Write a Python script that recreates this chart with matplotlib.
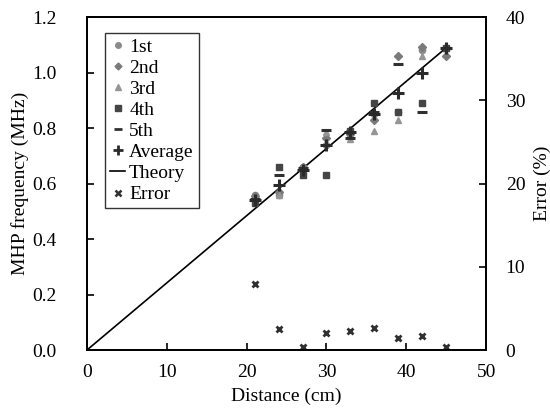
import matplotlib
matplotlib.use("Agg")
import matplotlib.pyplot as plt
from matplotlib.lines import Line2D

plt.rcParams['font.family'] = ['Liberation Serif', 'DejaVu Serif']

distance = [21, 24, 27, 30, 33, 36, 39, 42, 45]
first   = [0.56, 0.56, 0.66, 0.74, 0.78, 0.85, 0.86, 1.08, 1.09]
second  = [0.555, 0.57, 0.66, 0.765, 0.78, 0.83, 1.06, 1.093, 1.06]
third   = [0.55, 0.56, 0.66, 0.787, 0.76, 0.79, 0.83, 1.06, 1.09]
fourth  = [0.53, 0.66, 0.63, 0.63, 0.79, 0.89, 0.86, 0.89, 1.09]
fifth   = [0.545, 0.63, 0.655, 0.793, 0.763, 0.86, 1.033, 0.86, 1.09]
average = [0.54, 0.595, 0.65, 0.74, 0.785, 0.85, 0.927, 0.997, 1.09]
error   = [8.0, 2.5, 0.4, 2.1, 2.3, 2.7, 1.5, 1.7, 0.4]
theory_x = [0, 45]
theory_y = [0, 1.09]

fig = plt.figure(figsize=(5.5, 4.09), dpi=100)
ax = fig.add_axes([0.158, 0.144, 0.726, 0.814])
ax2 = ax.twinx()

ax.plot(distance, first, 'o', color='#8a8a8a', ms=4.5, label='1st', zorder=3)
ax.plot(distance, second, 'D', color='#7a7a7a', ms=4, label='2nd', zorder=3)
ax.plot(distance, third, '^', color='#959595', ms=4.5, label='3rd', zorder=3)
ax.plot(distance, fourth, 's', color='#454545', ms=5, label='4th', zorder=3)
ax.plot(distance, fifth, '_', color='#303030', ms=7, mew=2.2, label='5th', zorder=3)
ax.plot(distance, average, '+', color='#2a2a2a', ms=8, mew=2.2, label='Average', zorder=4)
ax.plot(theory_x, theory_y, '-', color='black', lw=1.2, label='Theory', zorder=2)
ax2.plot(distance, error, 'x', color='#303030', ms=5, mew=2, label='Error')

ax.set_xlim(0, 50)
ax.set_ylim(0, 1.2)
ax2.set_ylim(0, 40)
ax.set_xticks([0, 10, 20, 30, 40, 50])
ax.set_yticks([0, 0.2, 0.4, 0.6, 0.8, 1.0, 1.2])
ax.set_yticklabels(['0.0', '0.2', '0.4', '0.6', '0.8', '1.0', '1.2'])
ax2.set_yticks([0, 10, 20, 30, 40])

for a in (ax, ax2):
    a.tick_params(direction='in', length=5, width=1.2, labelsize=14, colors='black')
    for s in a.spines.values():
        s.set_linewidth(1.3)
ax.tick_params(axis='x', pad=10)
ax.tick_params(axis='y', pad=22)
ax2.tick_params(axis='y', pad=14)

ax.set_xlabel('Distance (cm)', fontsize=14, labelpad=5)
ax.set_ylabel('MHP frequency (MHz)', fontsize=14, labelpad=2)
ax2.set_ylabel('Error (%)', fontsize=14, labelpad=6)

handles = [
    Line2D([], [], ls='', marker='o', color='#8a8a8a', ms=4),
    Line2D([], [], ls='', marker='D', color='#7a7a7a', ms=3.5),
    Line2D([], [], ls='', marker='^', color='#959595', ms=4),
    Line2D([], [], ls='', marker='s', color='#454545', ms=4.5),
    Line2D([], [], ls='', marker='_', color='#303030', ms=6, mew=2),
    Line2D([], [], ls='', marker='+', color='#2a2a2a', ms=7, mew=2),
    Line2D([], [], ls='-', color='black', lw=1.2),
    Line2D([], [], ls='', marker='x', color='#303030', ms=4.5, mew=1.8),
]
labels = ['1st', '2nd', '3rd', '4th', '5th', 'Average', 'Theory', 'Error']
leg = ax.legend(handles, labels, loc='upper left', bbox_to_anchor=(0.045, 0.952),
                fontsize=14, frameon=True, fancybox=False, edgecolor='black',
                handlelength=0.8, handletextpad=0.2, borderpad=0.25,
                labelspacing=0.18, borderaxespad=0)
leg.get_frame().set_linewidth(1.0)

fig.savefig('out.png', dpi=100)
